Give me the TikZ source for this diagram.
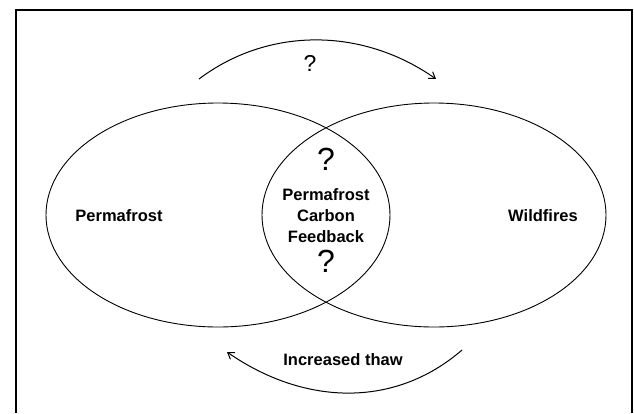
\documentclass[tikz,border=0pt]{standalone}
\usepackage{fontspec}
\setmainfont{Liberation Sans}
\usetikzlibrary{shapes.geometric,arrows.meta}
\begin{document}
\begin{tikzpicture}[x=1pt,y=-1pt,
  ring/.style={draw, ellipse, line width=0.9pt, inner sep=0pt,
               minimum width=344pt, minimum height=224pt},
  lbl/.style={font=\fontsize{16.5}{21}\selectfont\bfseries, align=center, inner sep=0pt},
  qmark/.style={font=\fontsize{32}{32}\selectfont, inner sep=0pt},
  cycle/.style={line width=1pt, -{Straight Barb[length=6pt,width=8pt]}}]
  \useasboundingbox (0,0) rectangle (634,413);
  \fill[white] (0,0) rectangle (634,413);
  % open frame, running off the bottom edge
  \draw[line width=2.3pt] (16,413) -- (16,10) -- (632,10) -- (632,413);

  % the two overlapping sets
  \node[ring] (pf) at (218,215) {};
  \node[ring] (wf) at (434,215) {};

  \node[lbl] (pflabel) at (119,216) {Permafrost};
  \node[lbl] (wflabel) at (543,216) {Wildfires};
  \node[lbl] (pcf) at (326,216) {Permafrost\\Carbon\\Feedback};
  \node[qmark] (qtop) at (326,159) {?};
  \node[qmark] (qbot) at (326,261) {?};

  % feedback arrows between the sets
  \coordinate (a1) at (199,79);
  \coordinate (a2) at (436,79);
  \coordinate (b1) at (462,350);
  \coordinate (b2) at (227,352);
  \draw[cycle] (a1) .. controls (268,27) and (362,27) .. (a2);
  \node[font=\fontsize{23}{23}\selectfont, inner sep=0pt] (qarc) at (310,63) {?};
  \draw[cycle] (b1) .. controls (395,408) and (305,406) .. (b2);
  \node[lbl] (thaw) at (343,360) {Increased thaw};
\end{tikzpicture}
\end{document}
